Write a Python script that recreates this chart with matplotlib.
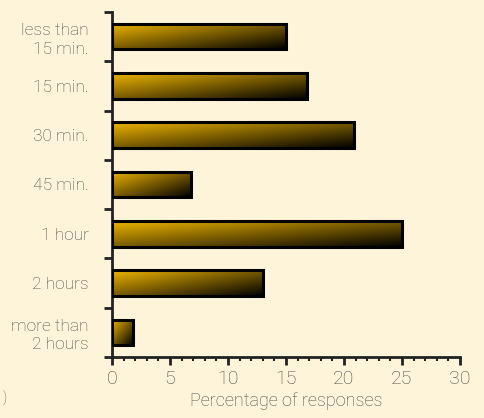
import numpy as np
import matplotlib.pyplot as plt
from matplotlib.patches import Rectangle
from matplotlib.ticker import MultipleLocator

categories = ["less than\n15 min.", "15 min.", "30 min.", "45 min.",
              "1 hour", "2 hours", "more than\n2 hours"]
percent = [15, 16.8, 20.9, 6.8, 25, 13, 1.8]

bg = "#fef4da"
gold = np.array([240, 182, 0]) / 255.0
txt = "#4a4a45"

plt.rcParams['font.family'] = ['Roboto', 'DejaVu Sans']
plt.rcParams['font.weight'] = 'light'

fig = plt.figure(figsize=(4.85, 4.18), dpi=100, facecolor=bg)
ax = fig.add_axes([112 / 485, 1 - 357 / 418, 348 / 485, 345 / 418])
ax.set_facecolor(bg)

# diagonal gold-to-black fill, stretched over each bar
u = np.linspace(0, 1, 200)[None, :]
v = np.linspace(0, 1, 60)[:, None]
t = np.clip(0.5 * (u + v), 0, 1)
grad = gold[None, None, :] * (1 - t[..., None])

h = 0.52
for i, val in enumerate(percent):
    rect = Rectangle((0, i - h / 2), val, h, facecolor="none",
                     edgecolor="black", linewidth=2.2, zorder=3)
    ax.add_patch(rect)
    im = ax.imshow(grad, extent=(0, val, i + h / 2, i - h / 2),
                   aspect="auto", interpolation="bilinear", zorder=2)
    im.set_clip_path(rect)

ax.set_xlim(0, 30)
ax.set_ylim(6.5, -0.5)

ax.set_yticks(np.arange(-0.5, 7, 1))
ax.set_yticklabels([])
ax.set_yticks(range(len(categories)), minor=True)
ax.set_yticklabels(categories, minor=True, linespacing=1.3)
ax.tick_params(axis="y", which="major", length=6, width=2, color="#222222")
ax.tick_params(axis="y", which="minor", length=0, pad=17, labelsize=12.5,
               labelcolor=txt)

ax.xaxis.set_major_locator(MultipleLocator(5))
ax.xaxis.set_minor_locator(MultipleLocator(1))
ax.tick_params(axis="x", which="major", length=6, width=2, color="#222222",
               labelsize=14, labelcolor=txt, pad=3)
ax.tick_params(axis="x", which="minor", length=3, width=1.5, color="#222222")

for s in ["top", "right"]:
    ax.spines[s].set_visible(False)
for s in ["left", "bottom"]:
    ax.spines[s].set_linewidth(2)
    ax.spines[s].set_color("#222222")

ax.set_xlabel("Percentage of responses", fontsize=13, fontweight="light",
              color=txt, labelpad=3)

fig.text(3 / 485, 1 - 398 / 418, ")", fontsize=10, color=txt, va="center")

fig.savefig("out.png", dpi=100, facecolor=bg)
